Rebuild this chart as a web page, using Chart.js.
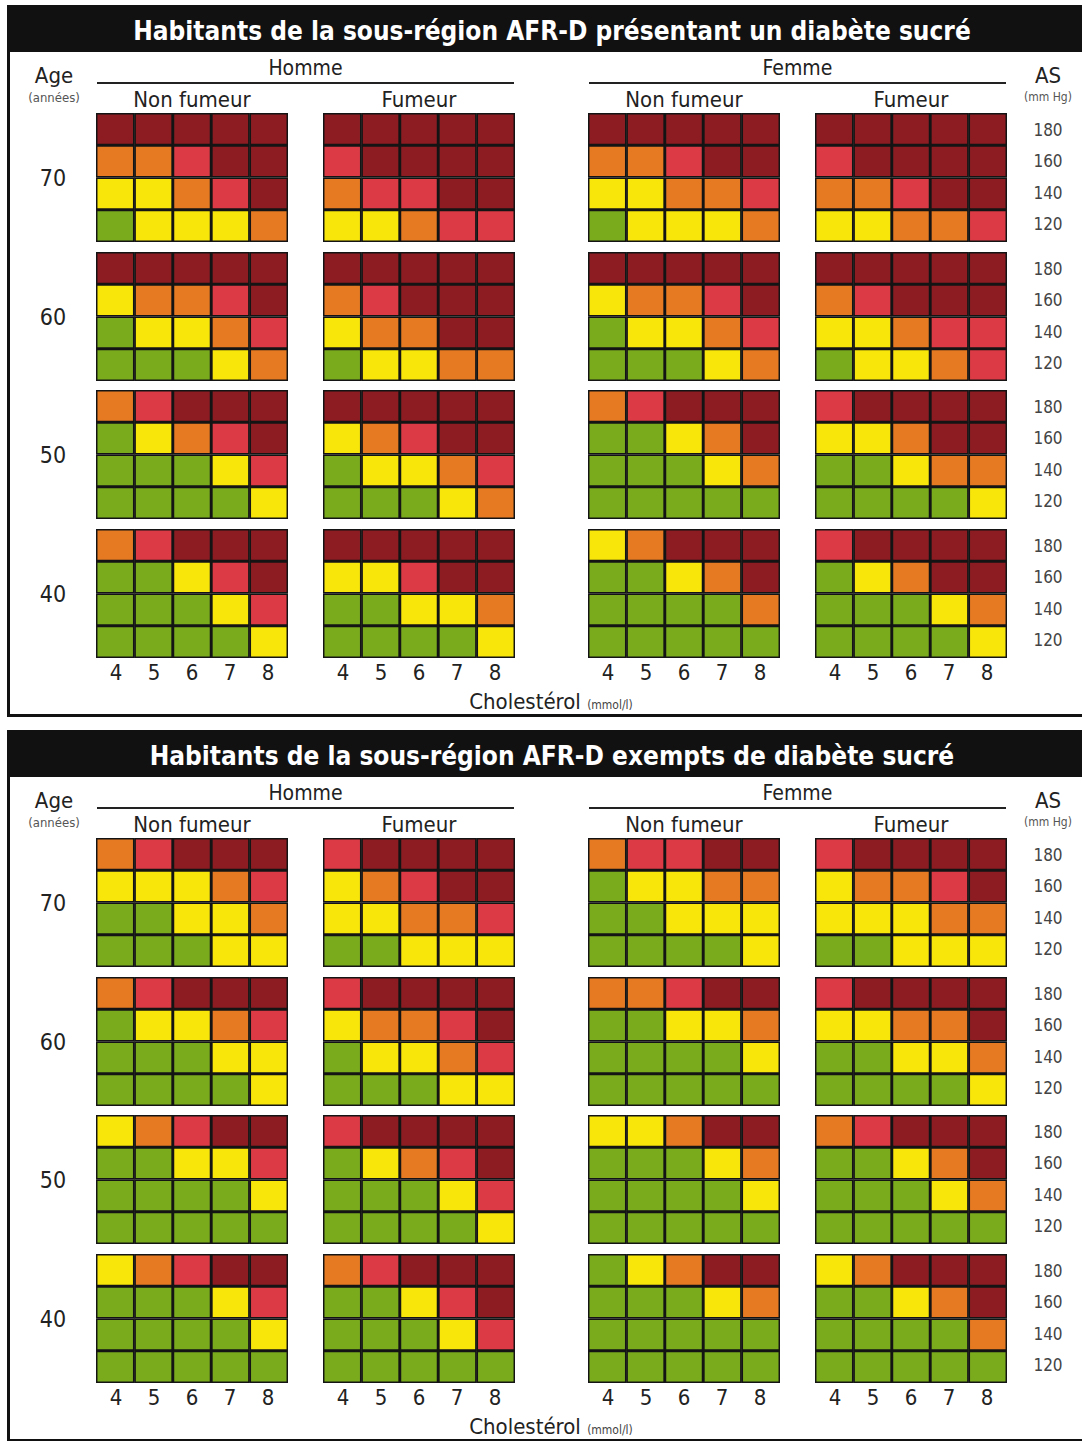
<!DOCTYPE html>
<html>
<head>
<meta charset="utf-8">
<script src="https://cdn.jsdelivr.net/npm/chart.js@4.4.1/dist/chart.umd.min.js"></script>
<style>
  body { margin: 0; background: #fff; width: 1082px; height: 1441px; overflow: hidden; position: relative;
         font-family: "DejaVu Sans Condensed", "Liberation Sans Narrow", "Noto Sans", sans-serif; color: #222; }
  .panel { position: absolute; left: 7px; width: 1090px; height: 712px; border: 3px solid #111; box-sizing: border-box; }
  .bar { position: absolute; left: 0; top: 0; width: 100%; height: 44px; background: #111; color: #fff;
         font-weight: bold; font-size: 26px; line-height: 46px; text-align: center; }
  .t { position: absolute; white-space: nowrap; transform: translate(-50%, -50%); }
  .rule { position: absolute; height: 0; border-top: 2px solid #222; }
  canvas { position: absolute; }
</style>
</head>
<body>
<script>
// Cholestérol (mmol/l), colonnes
const cholesterol = [4, 5, 6, 7, 8];
// AS (mm Hg), lignes de haut en bas
const pressure = [180, 160, 140, 120];
// Age (années), blocs de haut en bas
const ages = [70, 60, 50, 40];
// niveaux de risque : 0 <10%, 1 10-20%, 2 20-30%, 3 30-40%, 4 >=40%
const riskLevels = ['<10%', '10%-<20%', '20%-<30%', '30%-<40%', '>=40%'];
const riskColors = ['#7aab1c', '#f8e60a', '#e67a22', '#dc3a44', '#8c1b22'];

// Diabète sucré : [age][ligne AS][colonne cholestérol]
const diabHommeNonFumeur = [
  [[4,4,4,4,4],[2,2,3,4,4],[1,1,2,3,4],[0,1,1,1,2]],
  [[4,4,4,4,4],[1,2,2,3,4],[0,1,1,2,3],[0,0,0,1,2]],
  [[2,3,4,4,4],[0,1,2,3,4],[0,0,0,1,3],[0,0,0,0,1]],
  [[2,3,4,4,4],[0,0,1,3,4],[0,0,0,1,3],[0,0,0,0,1]]
];
const diabHommeFumeur = [
  [[4,4,4,4,4],[3,4,4,4,4],[2,3,3,4,4],[1,1,2,3,3]],
  [[4,4,4,4,4],[2,3,4,4,4],[1,2,2,4,4],[0,1,1,2,2]],
  [[4,4,4,4,4],[1,2,3,4,4],[0,1,1,2,3],[0,0,0,1,2]],
  [[4,4,4,4,4],[1,1,3,4,4],[0,0,1,1,2],[0,0,0,0,1]]
];
const diabFemmeNonFumeur = [
  [[4,4,4,4,4],[2,2,3,4,4],[1,1,2,2,3],[0,1,1,1,2]],
  [[4,4,4,4,4],[1,2,2,3,4],[0,1,1,2,3],[0,0,0,1,2]],
  [[2,3,4,4,4],[0,0,1,2,4],[0,0,0,1,2],[0,0,0,0,0]],
  [[1,2,4,4,4],[0,0,1,2,4],[0,0,0,0,2],[0,0,0,0,0]]
];
const diabFemmeFumeur = [
  [[4,4,4,4,4],[3,4,4,4,4],[2,2,3,4,4],[1,1,2,2,3]],
  [[4,4,4,4,4],[2,3,4,4,4],[1,1,2,3,3],[0,1,1,2,3]],
  [[3,4,4,4,4],[1,1,2,4,4],[0,0,1,2,2],[0,0,0,0,1]],
  [[3,4,4,4,4],[0,1,2,4,4],[0,0,0,1,2],[0,0,0,0,1]]
];

// Exempts de diabète sucré
const sansHommeNonFumeur = [
  [[2,3,4,4,4],[1,1,1,2,3],[0,0,1,1,2],[0,0,0,1,1]],
  [[2,3,4,4,4],[0,1,1,2,3],[0,0,0,1,1],[0,0,0,0,1]],
  [[1,2,3,4,4],[0,0,1,1,3],[0,0,0,0,1],[0,0,0,0,0]],
  [[1,2,3,4,4],[0,0,0,1,3],[0,0,0,0,1],[0,0,0,0,0]]
];
const sansHommeFumeur = [
  [[3,4,4,4,4],[1,2,3,4,4],[1,1,2,2,3],[0,0,1,1,1]],
  [[3,4,4,4,4],[1,2,2,3,4],[0,1,1,2,3],[0,0,0,1,1]],
  [[3,4,4,4,4],[0,1,2,3,4],[0,0,0,1,3],[0,0,0,0,1]],
  [[2,3,4,4,4],[0,0,1,3,4],[0,0,0,1,3],[0,0,0,0,0]]
];
const sansFemmeNonFumeur = [
  [[2,3,3,4,4],[0,1,1,2,2],[0,0,1,1,1],[0,0,0,0,1]],
  [[2,2,3,4,4],[0,0,1,1,2],[0,0,0,0,1],[0,0,0,0,0]],
  [[1,1,2,4,4],[0,0,0,1,2],[0,0,0,0,1],[0,0,0,0,0]],
  [[0,1,2,4,4],[0,0,0,1,2],[0,0,0,0,0],[0,0,0,0,0]]
];
const sansFemmeFumeur = [
  [[3,4,4,4,4],[1,2,2,3,4],[1,1,1,2,2],[0,0,1,1,1]],
  [[3,4,4,4,4],[1,1,2,2,4],[0,0,1,1,2],[0,0,0,0,1]],
  [[2,3,4,4,4],[0,0,1,2,4],[0,0,0,1,2],[0,0,0,0,0]],
  [[1,2,4,4,4],[0,0,1,2,4],[0,0,0,0,2],[0,0,0,0,0]]
];

const panels = [
  { top: 5, title: 'Habitants de la sous-région AFR-D présentant un diabète sucré',
    groups: [diabHommeNonFumeur, diabHommeFumeur, diabFemmeNonFumeur, diabFemmeFumeur] },
  { top: 730, title: 'Habitants de la sous-région AFR-D exempts de diabète sucré',
    groups: [sansHommeNonFumeur, sansHommeFumeur, sansFemmeNonFumeur, sansFemmeFumeur] }
];

// layout
const gridX = [97, 324, 589, 816];
const gridW = 190, gridH = 127;
const gridY = [109, 248, 386, 525];   // relatif au haut du panneau
const groupNames = ['Non fumeur', 'Fumeur', 'Non fumeur', 'Fumeur'];

function text(parent, str, x, y, size, extra) {
  const d = document.createElement('div');
  d.className = 't';
  d.textContent = str;
  d.style.left = x + 'px';
  d.style.top = y + 'px';
  d.style.fontSize = size + 'px';
  if (extra) Object.assign(d.style, extra);
  parent.appendChild(d);
  return d;
}

function drawGrid(root, x, y, cells) {
  const c = document.createElement('canvas');
  c.width = gridW + 2;
  c.height = gridH + 2;
  c.style.left = (x - 1) + 'px';
  c.style.top = (y - 1) + 'px';
  root.appendChild(c);
  // une série par ligne d'AS, empilées de 120 (bas) à 180 (haut)
  const datasets = pressure.map((p, r) => ({
    label: p + ' mm Hg',
    data: cholesterol.map(() => 1),
    backgroundColor: cells[r].map(v => riskColors[v]),
    borderColor: '#141414',
    borderWidth: 1.8,
    borderSkipped: false,
    barPercentage: 1,
    categoryPercentage: 1
  })).reverse();
  new Chart(c, {
    type: 'bar',
    data: { labels: cholesterol.map(String), datasets: datasets },
    options: {
      responsive: false,
      animation: false,
      events: [],
      layout: { padding: 0 },
      plugins: { legend: { display: false }, tooltip: { enabled: false } },
      scales: {
        x: { display: false, stacked: true },
        y: { display: false, stacked: true, min: 0, max: pressure.length }
      }
    }
  });
}

panels.forEach(p => {
  const box = document.createElement('div');
  box.className = 'panel';
  box.style.top = p.top + 'px';
  document.body.appendChild(box);
  const bar = document.createElement('div');
  bar.className = 'bar';
  bar.textContent = p.title;
  box.appendChild(bar);

  // positions en coordonnées de page
  const root = document.body;
  const top = p.top;
  text(root, 'Age', 54, top + 70, 22);
  text(root, '(années)', 54, top + 92, 13, { color: '#555' });
  text(root, 'AS', 1048, top + 70, 22);
  text(root, '(mm Hg)', 1048, top + 92, 12, { color: '#555' });

  [['Homme', 0], ['Femme', 2]].forEach(([name, g]) => {
    const x0 = gridX[g], x1 = gridX[g + 1] + gridW;
    text(root, name, (x0 + x1) / 2, top + 63, 21);
    const r = document.createElement('div');
    r.className = 'rule';
    r.style.left = x0 + 'px';
    r.style.width = (x1 - x0) + 'px';
    r.style.top = (top + 77) + 'px';
    root.appendChild(r);
  });
  groupNames.forEach((n, g) => text(root, n, gridX[g] + gridW / 2, top + 94, 22));

  ages.forEach((age, a) => {
    const y = top + gridY[a];
    text(root, String(age), 53, y + gridH / 2, 23);
    pressure.forEach((sp, r) => text(root, String(sp), 1048, y + 16 + r * 31.3, 17, { color: '#444' }));
    p.groups.forEach((grp, g) => drawGrid(root, gridX[g], y, grp[a]));
  });

  gridX.forEach(x => cholesterol.forEach((ch, i) =>
    text(root, String(ch), x + gridW / cholesterol.length * (i + 0.5), top + 667, 22)));
  const lab = text(root, 'Cholestérol ', 551, top + 696, 22);
  const small = document.createElement('span');
  small.textContent = '(mmol/l)';
  small.style.fontSize = '12px';
  small.style.color = '#444';
  lab.appendChild(small);
});
</script>
</body>
</html>
